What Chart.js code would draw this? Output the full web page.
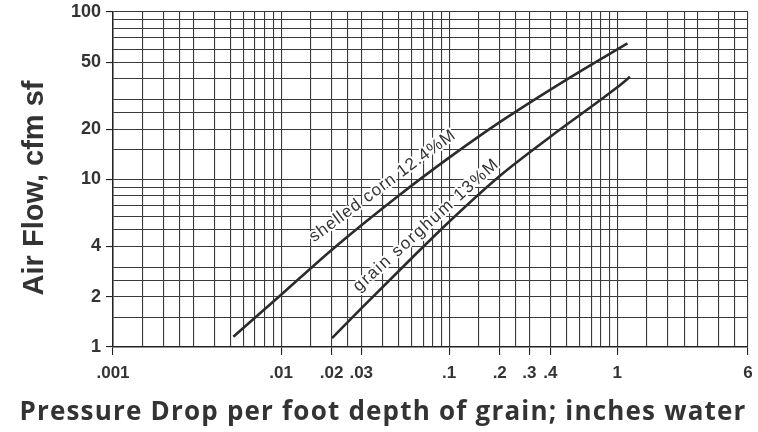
<!DOCTYPE html>
<html>
<head>
<meta charset="utf-8">
<script src="https://cdn.jsdelivr.net/npm/chart.js@4"></script>
<style>
  html, body { margin: 0; padding: 0; background: #fff; }
</style>
</head>
<body>
<canvas id="myChart" width="758" height="432"></canvas>
<script>
// curve values
const cornX = [0.0052, 0.01, 0.02, 0.05, 0.1, 0.2, 0.5, 1.15];
const cornY = [1.15, 2.05, 3.8, 8.0, 13.5, 22, 39.5, 65];
const sorghumX = [0.0201, 0.03, 0.06, 0.1, 0.2, 0.4, 1, 1.19];
const sorghumY = [1.13, 1.7, 3.4, 5.6, 10.5, 18, 35.5, 41];

// grid lines of the log paper
const xGrid = [
    0.001, 0.0015, 0.002, 0.0025, 0.003, 0.004, 0.005, 0.006, 0.007, 0.008, 0.009,
    0.01, 0.015, 0.02, 0.025, 0.03, 0.04, 0.05, 0.06, 0.07, 0.08, 0.09,
    0.1, 0.15, 0.2, 0.25, 0.3, 0.4, 0.5, 0.6, 0.7, 0.8, 0.9,
    1, 1.5, 2, 2.5, 3, 4, 5, 6
];
const yGrid = [
    1, 1.5, 2, 2.5, 3, 4, 5, 6, 7, 8, 9,
    10, 15, 20, 25, 30, 40, 50, 60, 70, 80, 90, 100
];

// labelled ticks
const xTickValues = [0.001, 0.01, 0.02, 0.03, 0.1, 0.2, 0.3, 0.4, 1, 6];
const xTickLabels = ['.001', '.01', '.02', '.03', '.1', '.2', '.3', '.4', '1', '6'];
const yTickValues = [1, 2, 4, 10, 20, 50, 100];
const yTickLabels = ['1', '2', '4', '10', '20', '50', '100'];

const seriesNames = ['shelled corn 12.4%M', 'grain sorghum 13%M'];
const labelAnchorX = [0.0157, 0.029];
const labelAnchorY = [4.2, 2.12];
const labelAngle = [-36.5, -42];
const labelSpacing = ['1px', '1.6px'];

const ink = '#333';

const findIndex = (vals, v) => vals.findIndex(t => Math.abs(t - v) / t < 1e-6);

const toPoints = (xs, ys) => xs.map((x, i) => ({ x: x, y: ys[i] }));

const curveLabels = {
    id: 'curveLabels',
    afterDatasetsDraw(chart) {
        const ctx = chart.ctx;
        const xs = chart.scales.x;
        const ys = chart.scales.y;
        ctx.save();
        ctx.font = '17px "Liberation Sans", Arial, sans-serif';
        ctx.textBaseline = 'alphabetic';
        ctx.lineJoin = 'round';
        seriesNames.forEach((name, i) => {
            ctx.save();
            ctx.letterSpacing = labelSpacing[i];
            ctx.translate(xs.getPixelForValue(labelAnchorX[i]), ys.getPixelForValue(labelAnchorY[i]));
            ctx.rotate(labelAngle[i] * Math.PI / 180);
            ctx.strokeStyle = '#fff';
            ctx.lineWidth = 4;
            ctx.strokeText(name, 0, 0);
            ctx.fillStyle = ink;
            ctx.fillText(name, 0, 0);
            ctx.restore();
        });
        ctx.restore();
    }
};

const axisTitles = {
    id: 'axisTitles',
    afterDraw(chart) {
        const ctx = chart.ctx;
        ctx.save();
        ctx.fillStyle = ink;
        ctx.textAlign = 'center';
        ctx.textBaseline = 'alphabetic';
        ctx.font = 'bold 26px "Open Sans", sans-serif';
        ctx.letterSpacing = '1.2px';
        ctx.fillText('Pressure Drop per foot depth of grain; inches water', 383, 420);
        ctx.letterSpacing = '0px';
        ctx.translate(43, 188);
        ctx.rotate(-Math.PI / 2);
        ctx.font = 'bold 29px "Liberation Sans", Arial, sans-serif';
        ctx.fillText('Air Flow, cfm sf', 0, 0);
        ctx.restore();
    }
};

const chart = new Chart(document.getElementById('myChart'), {
    type: 'line',
    data: {
        datasets: [
            {
                label: seriesNames[0],
                data: toPoints(cornX, cornY),
                borderColor: '#2b2b2b',
                borderWidth: 2.6,
                pointRadius: 0,
                cubicInterpolationMode: 'monotone'
            },
            {
                label: seriesNames[1],
                data: toPoints(sorghumX, sorghumY),
                borderColor: '#2b2b2b',
                borderWidth: 2.6,
                pointRadius: 0,
                cubicInterpolationMode: 'monotone'
            }
        ]
    },
    options: {
        responsive: false,
        animation: false,
        layout: { padding: { left: 0, right: 10, top: 12, bottom: 0 } },
        plugins: {
            legend: false,
            tooltip: { enabled: false }
        },
        scales: {
            x: {
                type: 'logarithmic',
                min: 0.001,
                max: 6,
                afterBuildTicks: scale => { scale.ticks = xGrid.map(v => ({ value: v })); },
                afterFit: scale => { scale.height = 85; },
                border: { color: '#222', width: 1.5 },
                grid: {
                    color: '#3a3a3a',
                    lineWidth: 1.1,
                    tickLength: 8,
                    tickColor: c => findIndex(xTickValues, c.tick.value) >= 0 ? '#222' : 'rgba(0,0,0,0)'
                },
                ticks: {
                    autoSkip: false,
                    maxRotation: 0,
                    padding: 3,
                    color: ink,
                    font: { family: '"Liberation Sans", Arial, sans-serif', weight: 'bold', size: 17, lineHeight: 1.8 },
                    callback: value => {
                        const i = findIndex(xTickValues, value);
                        return i >= 0 ? xTickLabels[i] : '';
                    }
                }
            },
            y: {
                type: 'logarithmic',
                min: 1,
                max: 100,
                afterBuildTicks: scale => { scale.ticks = yGrid.map(v => ({ value: v })); },
                afterFit: scale => { scale.width = 113; },
                border: { color: '#222', width: 1.5 },
                grid: {
                    color: '#3a3a3a',
                    lineWidth: 1.1,
                    tickLength: 7,
                    tickColor: c => findIndex(yTickValues, c.tick.value) >= 0 ? '#222' : 'rgba(0,0,0,0)'
                },
                ticks: {
                    autoSkip: false,
                    padding: 5,
                    color: ink,
                    font: { family: '"Liberation Sans", Arial, sans-serif', weight: 'bold', size: 18, lineHeight: 0.7 },
                    callback: value => {
                        const i = findIndex(yTickValues, value);
                        return i >= 0 ? yTickLabels[i] : '';
                    }
                }
            }
        }
    },
    plugins: [curveLabels, axisTitles]
});
</script>
</body>
</html>
